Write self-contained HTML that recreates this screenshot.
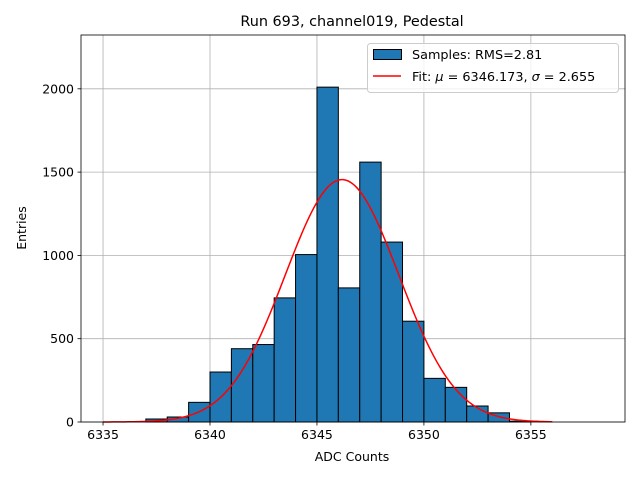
<!DOCTYPE html>
<html><head><meta charset="utf-8"><style>
body{margin:0;background:#fff;}
svg{display:block;font-family:"DejaVu Sans","Liberation Sans",sans-serif;}
</style></head><body>
<svg id="chart" width="640" height="480">
<rect width="640" height="480" fill="#fff"/>
<g id="grid"></g><g id="bars"></g><g id="fit"></g><g id="axes"></g>
<text x="352" y="26" text-anchor="middle" font-size="14.4">Run 693, channel019, Pedestal</text>
<text x="352" y="461" text-anchor="middle" font-size="12.5">ADC Counts</text>
<text x="26" y="228" text-anchor="middle" font-size="12.5" transform="rotate(-90 26 228)">Entries</text>
<g>
<rect x="367.5" y="43.5" width="251" height="49" rx="3" fill="#fff" fill-opacity="0.8" stroke="#ccc"/>
<rect x="373.5" y="49.5" width="28" height="10" fill="#1f77b4" stroke="#000"/>
<text x="412" y="59" font-size="12.8">Samples: RMS=2.81</text>
<line x1="373" y1="76" x2="401" y2="76" stroke="red" stroke-width="1.5"/>
<text x="412" y="81" font-size="12.8">Fit: <tspan font-style="italic">μ</tspan> = 6346.173, <tspan font-style="italic">σ</tspan> = 2.655</text>
</g>
</svg>
<script>
const binStarts=[6337,6338,6339,6340,6341,6342,6343,6344,6345,6346,6347,6348,6349,6350,6351,6352,6353,6354];
const counts=[18,30,118,300,440,465,745,1005,2010,805,1560,1080,605,262,208,96,55,5];
const xTicks=[6335,6340,6345,6350,6355];
const yTicks=[0,500,1000,1500,2000];
const fitMu=[6346.173];
const fitSigma=[2.655];
const fitAmp=[1455];
const fitRange=[6335,6356];
const L=81,R=625,T=35,B=422;
const x0=6333.97,x1=6359.4,yMax=2323;
const X=v=>L+(v-x0)/(x1-x0)*(R-L);
const Y=v=>B-v/yMax*(B-T);
const NS="http://www.w3.org/2000/svg";
function mk(tag,parent,attrs){const e=document.createElementNS(NS,tag);for(const k in attrs)e.setAttribute(k,attrs[k]);parent.appendChild(e);return e;}
const grid=document.getElementById('grid'),bars=document.getElementById('bars'),fit=document.getElementById('fit'),axes=document.getElementById('axes');
xTicks.forEach(t=>{
 const g=mk('line',grid,{x1:X(t),x2:X(t),y1:T,y2:B,stroke:'#b0b0b0','stroke-width':0.8});
 
 
 const tk=mk('line',axes,{x1:X(t),x2:X(t),y1:B,y2:B+3.5,stroke:'#000','stroke-width':0.8});
 
 
 const tx=mk('text',axes,{x:X(t),y:B+17,'text-anchor':'middle','font-size':12.5});
 tx.textContent=t;
 
 
});
yTicks.forEach(t=>{
 const g=mk('line',grid,{x1:L,x2:R,y1:Y(t),y2:Y(t),stroke:'#b0b0b0','stroke-width':0.8});
 
 
 const tk=mk('line',axes,{x1:L-3.5,x2:L,y1:Y(t),y2:Y(t),stroke:'#000','stroke-width':0.8});
 
 
 const tx=mk('text',axes,{x:L-7,y:Y(t)+4.5,'text-anchor':'end','font-size':12.5});
 tx.textContent=t;
 
 
});
binStarts.forEach((b,i)=>{
 const r=mk('rect',bars,{x:X(b),y:Y(counts[i]),width:X(b+1)-X(b),height:B-Y(counts[i]),fill:'#1f77b4',stroke:'#000','stroke-width':1});
 
 
});
let d='';
for(let i=0;i<=200;i++){const v=fitRange[0]+(fitRange[1]-fitRange[0])*i/200;const y=fitAmp[0]*Math.exp(-0.5*Math.pow((v-fitMu[0])/fitSigma[0],2));d+=(i?'L':'M')+X(v).toFixed(2)+','+Y(y).toFixed(2);}
const p=mk('path',fit,{d:d,fill:'none',stroke:'red','stroke-width':1.5});


const fr=mk('rect',axes,{x:L,y:T,width:R-L,height:B-T,fill:'none',stroke:'#000','stroke-width':0.8});


</script>
</body></html>
